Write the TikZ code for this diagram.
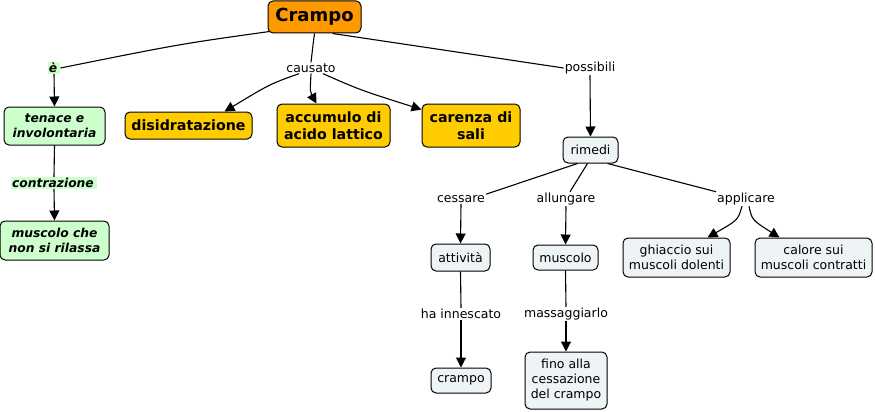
\documentclass[tikz,border=0pt]{standalone}
\usepackage{fontspec}
\setmainfont{DejaVu Sans}
\usetikzlibrary{arrows.meta}
\definecolor{corange}{HTML}{FF9900}
\definecolor{cyellow}{HTML}{FFCC00}
\definecolor{cgreen}{HTML}{CCFFCC}
\definecolor{cgrey}{HTML}{EEF3F6}
\tikzset{
  box/.style={draw=black, line width=1pt, rounded corners=5pt, align=center, inner sep=0pt},
  mainbox/.style={box, fill=corange, font=\fontsize{18}{20}\selectfont\bfseries},
  causebox/.style={box, fill=cyellow, font=\fontsize{14.2}{17}\selectfont\bfseries},
  greenbox/.style={box, fill=cgreen, font=\fontsize{12.3}{15}\selectfont\bfseries\itshape},
  greybox/.style={box, fill=cgrey, font=\fontsize{12.5}{15}\selectfont},
  lab/.style={inner sep=1pt, font=\fontsize{12.5}{14}\selectfont},
  glab/.style={inner sep=1pt, fill=cgreen, font=\fontsize{12.3}{14}\selectfont\bfseries\itshape},
  link/.style={line width=1.1pt, draw=black},
  arr/.style={link, -{Triangle[width=10pt,length=10pt]}}
}
\begin{document}
\begin{tikzpicture}[x=1pt,y=-1pt]
\useasboundingbox[fill=white] (0,0) rectangle (875,412);
% concept nodes
\node[mainbox, minimum width=93pt, minimum height=32pt] (crampo) at (314.5,17) {Crampo};
\node[greenbox, minimum width=101pt, minimum height=38pt] (tenace) at (54.5,126) {tenace e\\involontaria};
\node[greenbox, minimum width=109pt, minimum height=39pt] (rilassa) at (54.5,240.5) {muscolo che\\non si rilassa};
\node[causebox, minimum width=127pt, minimum height=27pt] (disid) at (188.5,125.5) {disidratazione};
\node[causebox, minimum width=113pt, minimum height=43pt] (acido) at (333.5,125.5) {accumulo di\\acido lattico};
\node[causebox, minimum width=98pt, minimum height=43pt] (sali) at (471,125.5) {carenza di\\sali};
\node[greybox, minimum width=55pt, minimum height=26pt] (rimedi) at (590.5,150) {rimedi};
\node[greybox, minimum width=59pt, minimum height=27pt] (attivita) at (460.5,257.5) {attività};
\node[greybox, minimum width=65pt, minimum height=25pt] (muscolo) at (565.5,257.5) {muscolo};
\node[greybox, minimum width=107pt, minimum height=39pt] (ghiaccio) at (676.5,257.5) {ghiaccio sui\\muscoli dolenti};
\node[greybox, minimum width=117pt, minimum height=39pt] (calore) at (813.5,257.5) {calore sui\\muscoli contratti};
\node[greybox, minimum width=60pt, minimum height=25pt] (crampob) at (461,380.5) {crampo};
\node[greybox, minimum width=82pt, minimum height=57pt] (fino) at (566,380.5) {fino alla\\cessazione\\del crampo};
% link labels
\node[glab] (le) at (54,68) {è\,};
\node[glab] (lcontr) at (54,183) {contrazione\,};
\node[lab] (lcaus) at (311,68) {causato};
\node[lab] (lposs) at (590,68) {possibili};
\node[lab] (lcess) at (461,199) {cessare};
\node[lab] (lall) at (566,199) {allungare};
\node[lab] (lapp) at (746,199) {applicare};
\node[lab] (lhai) at (461,314) {ha innescato};
\node[lab] (lmass) at (566,314) {massaggiarlo};
% connectors
\draw[link] ([shift={(2,-2)}]crampo.south west) .. controls (180,44) .. (le.east);
\draw[arr] (le.south) -- (tenace.north);
\draw[link] (tenace.south) -- (lcontr.north);
\draw[arr] (lcontr.south) -- (rilassa.north);
\draw[link] (crampo.south) .. controls (313,45) .. (lcaus.north);
\draw[arr] ([xshift=-12pt]lcaus.south) .. controls (270,84) .. ([xshift=-28pt]disid.north east);
\draw[arr] (lcaus.south) .. controls (310,92) .. ([xshift=-17pt]acido.north);
\draw[arr] ([xshift=12pt]lcaus.south) .. controls (360,90) .. ([yshift=-6pt]sali.north west);
\draw[link] ([xshift=18pt]crampo.south) .. controls (430,48) .. (lposs.west);
\draw[arr] (lposs.south) -- (rimedi.north);
\draw[link] ([xshift=-13pt]rimedi.south) -- (lcess.north east);
\draw[link] ([xshift=-3pt]rimedi.south) -- ([xshift=4pt]lall.north);
\draw[link] ([xshift=17pt]rimedi.south) -- ([xshift=-30pt]lapp.north);
\draw[arr] (lcess.south) -- (attivita.north);
\draw[arr] (lall.south) -- (muscolo.north);
\draw[arr] ([xshift=-4pt]lapp.south) .. controls (738,220) .. ([xshift=31pt]ghiaccio.north);
\draw[arr] ([xshift=3pt]lapp.south) .. controls (752,220) .. ([xshift=-34pt]calore.north);
\draw[link] (attivita.south) -- (lhai.north);
\draw[arr] (lhai.south) -- (crampob.north);
\draw[link] (muscolo.south) -- (lmass.north);
\draw[arr] (lmass.south) -- (fino.north);
\end{tikzpicture}
\end{document}
